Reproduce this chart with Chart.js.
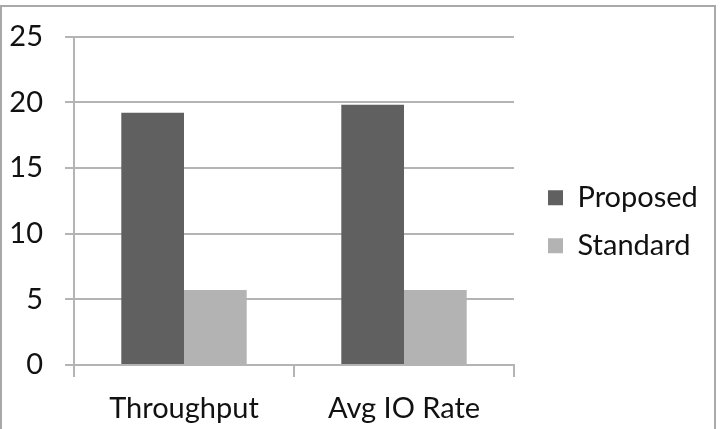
<!DOCTYPE html>
<html>
<head>
<meta charset="utf-8">
<script src="https://cdn.jsdelivr.net/npm/chart.js@4"></script>
<style>
  html, body { margin: 0; padding: 0; background: #fff; overflow: hidden; }
  #frame {
    position: absolute; left: 0; top: 5px;
    width: 712px; height: 430px;
    border: 2px solid #a9a9a9; border-bottom: none;
  }
  #wrap { position: relative; width: 712px; height: 422px; }
</style>
</head>
<body>
<div id="frame"><div id="wrap"><canvas id="chart"></canvas></div></div>
<script>
const categories = ["Throughput", "Avg IO Rate"];
const proposed = [19.2, 19.8];
const standard = [5.7, 5.7];
const yTicks = [0, 5, 10, 15, 20, 25];

const font = { family: "Lato, 'Open Sans', sans-serif", size: 29 };
const textColor = "#111";
const gridColor = "#b4b4b4";

// fixed legend width so the plot ends where the original does,
// and nudge the legend items to the right
const legendPlace = {
  id: "legendPlace",
  beforeInit(chart) {
    const legend = chart.legend;
    const fit = legend.fit;
    legend.fit = function () {
      fit.call(this);
      this.width = 200;
    };
    const draw = legend.draw;
    legend.draw = function () {
      this.ctx.save();
      this.ctx.translate(15, 2);
      draw.apply(this, arguments);
      this.ctx.restore();
    };
  },
};

new Chart(document.getElementById("chart"), {
  type: "bar",
  data: {
    labels: categories,
    datasets: [
      { label: "Proposed", data: proposed, backgroundColor: "#606060" },
      { label: "Standard", data: standard, backgroundColor: "#b3b3b3" },
    ],
  },
  options: {
    responsive: true,
    maintainAspectRatio: false,
    animation: false,
    layout: { padding: { left: 0, top: 3.5, bottom: 0, right: 0 } },
    datasets: { bar: { categoryPercentage: 0.57, barPercentage: 1.0, borderWidth: 0 } },
    plugins: {
      tooltip: { enabled: false },
      legend: {
        position: "right",
        labels: {
          color: textColor,
          font: font,
          boxWidth: 15,
          boxHeight: 15,
          padding: 19,
        },
      },
    },
    scales: {
      x: {
        afterFit: (s) => { s.height = 64; s.paddingLeft = 0; s.paddingRight = 0; },
        grid: { drawOnChartArea: false, color: gridColor, lineWidth: 2, tickLength: 12 },
        border: { color: gridColor, width: 2 },
        ticks: { color: textColor, font: font, padding: 14, maxRotation: 0 },
      },
      y: {
        min: 0,
        max: 25,
        afterFit: (s) => { s.width = 72; s.paddingTop = 29.5; s.paddingBottom = 0; },
        afterBuildTicks: (axis) => { axis.ticks = yTicks.map((v) => ({ value: v })); },
        grid: { color: gridColor, lineWidth: 2, tickLength: 9 },
        border: { color: gridColor, width: 2 },
        ticks: { color: textColor, font: font, padding: 22 },
      },
    },
  },
  plugins: [legendPlace],
});
</script>
</body>
</html>
